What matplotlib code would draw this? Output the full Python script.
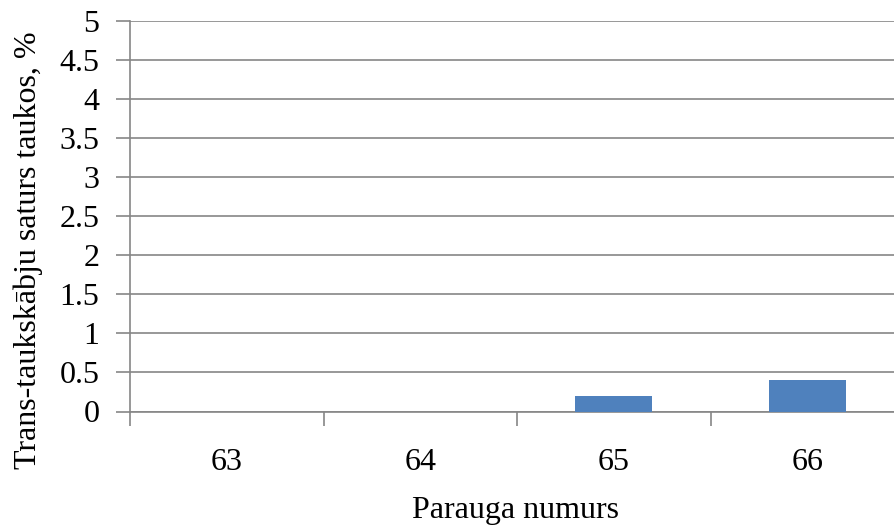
import matplotlib
matplotlib.use("Agg")
import matplotlib.pyplot as plt
import numpy as np

# sample numbers and trans fat content, %
samples = ["63", "64", "65", "66"]
trans_fat = [0.0, 0.0, 0.2, 0.4]
y_ticks = [0, 0.5, 1, 1.5, 2, 2.5, 3, 3.5, 4, 4.5, 5]
y_tick_labels = ["0", "0.5", "1", "1.5", "2", "2.5", "3", "3.5", "4", "4.5", "5"]

plt.rcParams["font.family"] = ["Liberation Serif", "DejaVu Serif"]
grid_color = "#868686"
fsize = 23

fig = plt.figure(figsize=(8.94, 5.31), dpi=100)
W, H = 894, 531
# the plot area runs past the right edge of the picture, as in the original
ax = fig.add_axes([130 / W, (H - 411.5) / H, (904 - 130) / W, (411.5 - 21) / H])

x = np.arange(len(samples))
ax.bar(x, trans_fat, width=0.4, color="#4F81BD", zorder=3)

ax.set_xlim(-0.5, len(samples) - 0.5)
ax.set_ylim(0, 5)

ax.set_yticks(y_ticks)
ax.set_yticklabels(y_tick_labels)
ax.set_xticks(x)
ax.set_xticklabels(samples)
ax.set_xticks(np.arange(len(samples)) - 0.5, minor=True)

ax.tick_params(axis="y", direction="out", length=10, width=1.2, color=grid_color,
               labelsize=fsize, pad=12)
ax.tick_params(axis="x", which="major", length=0, labelsize=fsize, pad=26)
ax.tick_params(axis="x", which="minor", direction="out", length=10, width=1.2,
               color=grid_color)

ax.yaxis.grid(True, color=grid_color, linewidth=1.2, zorder=0)
ax.set_axisbelow(True)

for side in ["top", "right"]:
    ax.spines[side].set_visible(False)
for side in ["left", "bottom"]:
    ax.spines[side].set_color(grid_color)
    ax.spines[side].set_linewidth(1.2)

fig.text(515 / W, 13 / H, "Parauga numurs", fontsize=fsize,
         ha="center", va="baseline")
fig.text(28 / W, (H - 250) / H, "Trans-taukskābju saturs taukos, %", fontsize=fsize,
         rotation=90, ha="center", va="center")

fig.savefig("out.png", dpi=100)
